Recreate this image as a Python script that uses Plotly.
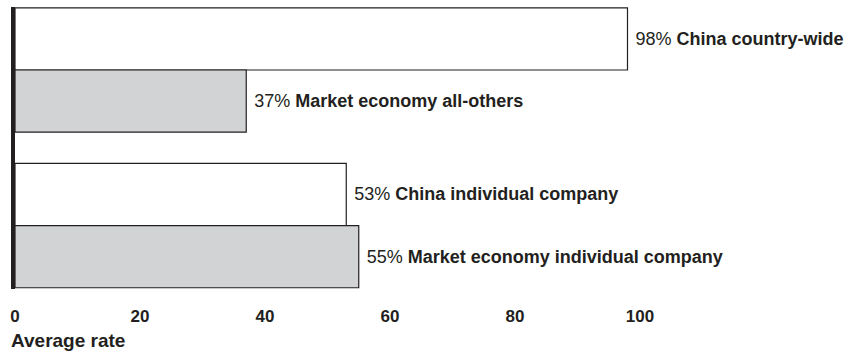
import plotly.graph_objects as go

# Average rates, grouped by rate type (first row = China, second = market economy)
groups = ["Country-wide / all-others", "Individual company"]
china_rates = [98, 53]
market_rates = [37, 55]
china_labels = ["China country-wide", "China individual company"]
market_labels = ["Market economy all-others", "Market economy individual company"]
x_ticks = [0, 20, 40, 60, 80, 100]
axis_title = "Average rate"

INK = "#231f20"
GREY_FILL = "#d1d3d4"
FONT = "Liberation Sans, Arial, sans-serif"


def bar_text(values, labels):
    return [f"\u00a0{v}% <b>{lab}</b>" for v, lab in zip(values, labels)]


fig = go.Figure()
fig.add_trace(go.Bar(
    y=groups, x=china_rates, orientation="h",
    marker=dict(color="white", line=dict(color=INK, width=1.2)),
    text=bar_text(china_rates, china_labels),
    textposition="outside", cliponaxis=False, constraintext="none",
    textfont=dict(family=FONT, size=18, color=INK),
    hoverinfo="skip", showlegend=False,
))
fig.add_trace(go.Bar(
    y=groups, x=market_rates, orientation="h",
    marker=dict(color=GREY_FILL, line=dict(color=INK, width=1.2)),
    text=bar_text(market_rates, market_labels),
    textposition="outside", cliponaxis=False, constraintext="none",
    textfont=dict(family=FONT, size=18, color=INK),
    hoverinfo="skip", showlegend=False,
))

fig.update_layout(
    width=857, height=351,
    margin=dict(l=15, r=217, t=7, b=62),
    paper_bgcolor="white", plot_bgcolor="white",
    barmode="group", bargap=0.2, bargroupgap=0,
    font=dict(family=FONT, color=INK),
    xaxis=dict(
        range=[0, 100], tickvals=x_ticks,
        showgrid=False, zeroline=False, showline=False,
        ticks="outside", ticklen=12, tickcolor="rgba(0,0,0,0)",
        tickfont=dict(family=FONT, size=17, color=INK, weight="bold"),
        fixedrange=True,
    ),
    yaxis=dict(
        type="category", range=[1.408, -0.405],
        showgrid=False, zeroline=False, showticklabels=False,
        showline=True, linewidth=4, linecolor=INK,
        fixedrange=True,
    ),
    annotations=[dict(
        text=f"<b>{axis_title}</b>", xref="paper", yref="paper",
        x=0, y=0, xanchor="left", yanchor="middle",
        xshift=-6, yshift=-51, showarrow=False,
        font=dict(family=FONT, size=19, color=INK),
    )],
)

fig.write_html("out.html")
